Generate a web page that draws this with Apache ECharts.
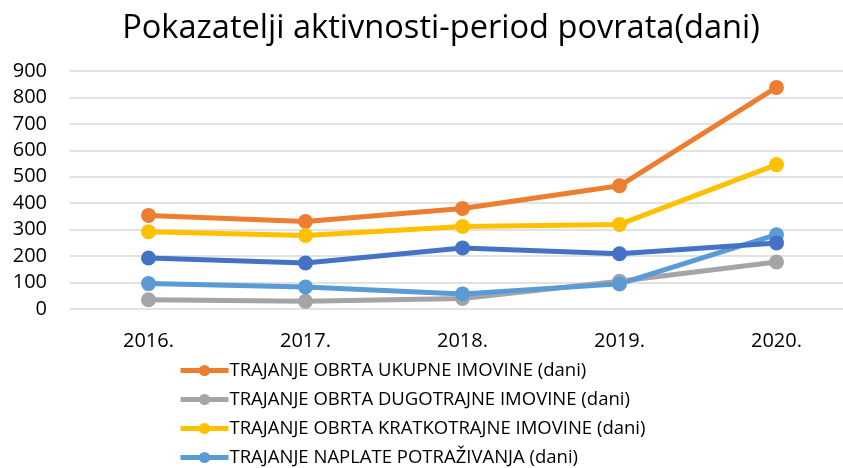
<!DOCTYPE html>
<html>
<head>
<meta charset="utf-8">
<script src="https://cdn.jsdelivr.net/npm/echarts@6/dist/echarts.min.js"></script>
<style>
  html, body { margin: 0; padding: 0; background: #fff; }
  #chart { width: 843px; height: 468px; }
</style>
</head>
<body>
<div id="chart"></div>
<script>
// godine
const years = ['2016.', '2017.', '2018.', '2019.', '2020.'];
// vrijednosti po seriji (dani)
const ukupne = [354, 331, 380, 466, 838];
const dugotrajne = [35, 29, 40, 105, 178];
const kratkotrajne = [292, 278, 312, 320, 546];
const naplata = [96, 83, 57, 95, 281];
const peta = [193, 174, 231, 209, 250];

const names = [
	'TRAJANJE OBRTA UKUPNE IMOVINE (dani)',
	'TRAJANJE OBRTA DUGOTRAJNE IMOVINE (dani)',
	'TRAJANJE OBRTA KRATKOTRAJNE IMOVINE (dani)',
	'TRAJANJE NAPLATE POTRAŽIVANJA (dani)',
	'TRAJANJE NAPLATE OBVEZA (dani)'
];

const chart = echarts.init(document.getElementById('chart'));

function line(name, data, color) {
	return {
		name: name,
		type: 'line',
		data: data,
		symbol: 'circle',
		symbolSize: 15,
		lineStyle: { width: 5, color: color },
		itemStyle: { color: color },
		emphasis: { disabled: true }
	};
}

const option = {
	animation: false,
	title: {
		text: 'Pokazatelji aktivnosti-period povrata(dani)',
		left: 436,
		textAlign: 'center',
		top: 7,
		textStyle: {
			fontFamily: 'Open Sans',
			fontWeight: 'normal',
			fontSize: 32.6,
			color: '#000'
		}
	},
	legend: {
		data: names.slice(0, 4),
		orient: 'vertical',
		left: 178,
		top: 361,
		padding: 0,
		itemWidth: 48,
		itemHeight: 14,
		itemGap: 10,
		lineStyle: { width: 5 },
		textStyle: {
			fontFamily: 'Open Sans',
			fontSize: 18.5,
			lineHeight: 19,
			color: '#000',
			padding: [0, 0, 0, -4]
		}
	},
	grid: {
		left: 70,
		top: 71,
		width: 785,
		bottom: 159,
		outerBoundsMode: 'none'
	},
	xAxis: {
		type: 'category',
		data: years,
		boundaryGap: true,
		axisLine: { show: false },
		axisTick: { show: false },
		axisLabel: {
			fontFamily: 'Open Sans',
			fontSize: 20,
			color: '#000',
			margin: 22
		}
	},
	yAxis: {
		type: 'value',
		min: 0,
		max: 900,
		interval: 100,
		axisLine: { show: false },
		axisTick: { show: false },
		axisLabel: {
			fontFamily: 'Open Sans',
			fontSize: 20,
			color: '#000',
			margin: 23
		},
		splitLine: { lineStyle: { color: '#d9d9d9', width: 1.5 } }
	},
	series: [
		line(names[0], ukupne, '#ED7D31'),
		line(names[1], dugotrajne, '#A5A5A5'),
		line(names[2], kratkotrajne, '#FFC000'),
		line(names[3], naplata, '#5B9BD5'),
		line(names[4], peta, '#4472C4')
	]
};

chart.setOption(option);
</script>
</body>
</html>
